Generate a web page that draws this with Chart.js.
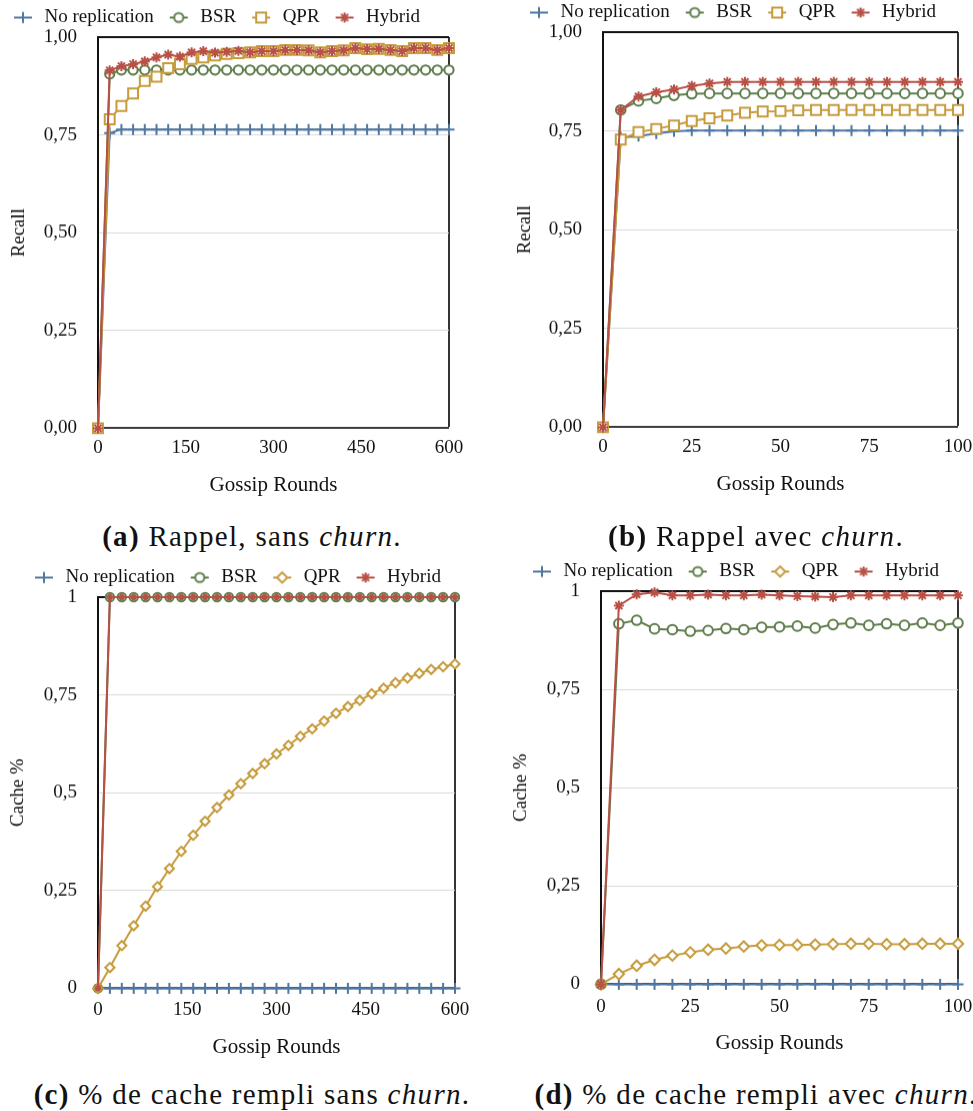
<!DOCTYPE html>
<html>
<head>
<meta charset="utf-8">
<script src="https://cdn.jsdelivr.net/npm/chart.js@4/dist/chart.umd.min.js"></script>
<style>
  html, body { margin: 0; padding: 0; background: #fff; }
  body { position: relative; width: 973px; height: 1111px; overflow: hidden; font-family: 'Liberation Serif', 'Times New Roman', serif; }
  canvas.panel { position: absolute; }
  .cap { position: absolute; transform: translate(-50%, -50%); white-space: nowrap; font-size: 29px; letter-spacing: 1.3px; color: #111; line-height: 1; }
  .cap b { font-weight: bold; }
</style>
</head>
<body>
<canvas id="chartA" class="panel"></canvas>
<canvas id="chartB" class="panel"></canvas>
<canvas id="chartC" class="panel"></canvas>
<canvas id="chartD" class="panel"></canvas>
<div class="cap" style="left:252px;top:536px"><b>(a)</b> Rappel, sans <i>churn</i>.</div>
<div class="cap" style="left:756px;top:536px"><b>(b)</b> Rappel avec <i>churn</i>.</div>
<div class="cap" style="left:252px;top:1094px"><b>(c)</b> % de cache rempli sans <i>churn</i>.</div>
<div class="cap" style="left:756px;top:1094px"><b>(d)</b> % de cache rempli avec <i>churn</i>.</div>
<script>
// ---- data ----
const seriesNames = ['No replication', 'BSR', 'QPR', 'Hybrid'];

const roundsLong = [0, 20, 40, 60, 80, 100, 120, 140, 160, 180, 200, 220, 240, 260, 280, 300,
  320, 340, 360, 380, 400, 420, 440, 460, 480, 500, 520, 540, 560, 580, 600];
const roundsShort = [0, 5, 10, 15, 20, 25, 30, 35, 40, 45, 50, 55, 60, 65, 70, 75, 80, 85, 90, 95, 100];

const recallTicks = ['0,00', '0,25', '0,50', '0,75', '1,00'];
const cacheTicks = ['0', '0,25', '0,5', '0,75', '1'];

// (a) recall, no churn
const recallNoRepA = [0, 0.755, 0.764, 0.764, 0.764, 0.764, 0.764, 0.764, 0.764, 0.764,
  0.764, 0.764, 0.764, 0.764, 0.764, 0.764, 0.764, 0.764, 0.764, 0.764,
  0.764, 0.764, 0.764, 0.764, 0.764, 0.764, 0.764, 0.764, 0.764, 0.764, 0.764];
const recallBsrA = [0, 0.906, 0.916, 0.916, 0.916, 0.916, 0.916, 0.916, 0.916, 0.916,
  0.916, 0.916, 0.916, 0.916, 0.916, 0.916, 0.916, 0.916, 0.916, 0.916,
  0.916, 0.916, 0.916, 0.916, 0.916, 0.916, 0.916, 0.916, 0.916, 0.916, 0.916];
const recallQprA = [0, 0.790, 0.824, 0.856, 0.888, 0.899, 0.921, 0.931, 0.944, 0.948,
  0.953, 0.957, 0.959, 0.961, 0.964, 0.964, 0.967, 0.967, 0.966, 0.961,
  0.964, 0.966, 0.972, 0.969, 0.970, 0.967, 0.964, 0.972, 0.972, 0.967, 0.972];
const recallHybridA = [0, 0.915, 0.926, 0.931, 0.938, 0.948, 0.955, 0.950, 0.961, 0.964,
  0.960, 0.962, 0.965, 0.961, 0.964, 0.964, 0.967, 0.967, 0.966, 0.961,
  0.964, 0.966, 0.972, 0.969, 0.970, 0.967, 0.964, 0.972, 0.972, 0.967, 0.972];

// (b) recall, with churn
const recallNoRepB = [0, 0.733, 0.737, 0.743, 0.749, 0.751, 0.751, 0.751, 0.751, 0.751,
  0.751, 0.751, 0.751, 0.751, 0.751, 0.751, 0.751, 0.751, 0.751, 0.751, 0.751];
const recallBsrB = [0, 0.803, 0.826, 0.832, 0.840, 0.844, 0.845, 0.845, 0.845, 0.845,
  0.845, 0.845, 0.845, 0.845, 0.845, 0.845, 0.845, 0.845, 0.845, 0.845, 0.845];
const recallQprB = [0, 0.728, 0.747, 0.755, 0.764, 0.775, 0.782, 0.789, 0.796, 0.799,
  0.800, 0.802, 0.803, 0.803, 0.803, 0.803, 0.803, 0.803, 0.803, 0.803, 0.803];
const recallHybridB = [0, 0.803, 0.837, 0.848, 0.855, 0.864, 0.870, 0.874, 0.874, 0.874,
  0.874, 0.874, 0.874, 0.874, 0.874, 0.874, 0.874, 0.874, 0.874, 0.874, 0.874];

// (c) cache filled, no churn
const cacheNoRepC = [0, 0, 0, 0, 0, 0, 0, 0, 0, 0, 0, 0, 0, 0, 0, 0,
  0, 0, 0, 0, 0, 0, 0, 0, 0, 0, 0, 0, 0, 0, 0];
const cacheBsrC = [0, 1, 1, 1, 1, 1, 1, 1, 1, 1, 1, 1, 1, 1, 1, 1,
  1, 1, 1, 1, 1, 1, 1, 1, 1, 1, 1, 1, 1, 1, 1];
const cacheQprC = [0, 0.053, 0.109, 0.160, 0.210, 0.260, 0.306, 0.350, 0.391, 0.427,
  0.462, 0.494, 0.523, 0.549, 0.574, 0.599, 0.621, 0.644, 0.663, 0.683,
  0.703, 0.720, 0.736, 0.753, 0.767, 0.781, 0.793, 0.805, 0.815, 0.822, 0.829];
const cacheHybridC = [0, 1, 1, 1, 1, 1, 1, 1, 1, 1, 1, 1, 1, 1, 1, 1,
  1, 1, 1, 1, 1, 1, 1, 1, 1, 1, 1, 1, 1, 1, 1];

// (d) cache filled, with churn
const cacheNoRepD = [0, 0, 0, 0, 0, 0, 0, 0, 0, 0, 0, 0, 0, 0, 0, 0, 0, 0, 0, 0, 0];
const cacheBsrD = [0, 0.917, 0.926, 0.904, 0.902, 0.898, 0.900, 0.905, 0.902, 0.908,
  0.909, 0.911, 0.906, 0.915, 0.919, 0.913, 0.917, 0.913, 0.919, 0.913, 0.919];
const cacheQprD = [0, 0.026, 0.047, 0.062, 0.073, 0.081, 0.088, 0.091, 0.096, 0.099,
  0.100, 0.100, 0.101, 0.102, 0.103, 0.103, 0.102, 0.102, 0.103, 0.103, 0.103];
const cacheHybridD = [0, 0.963, 0.992, 0.997, 0.989, 0.989, 0.991, 0.989, 0.989, 0.991,
  0.989, 0.987, 0.986, 0.985, 0.989, 0.989, 0.989, 0.989, 0.989, 0.989, 0.989];

// ---- styling ----
const FONT = "'Liberation Serif', 'Times New Roman', serif";
const TEXT = '#111';
const colors = ['#4f77a0', '#5f7d4b', '#c69b3c', '#b85046'];
const LEG_PAD = 11, LEG_FONT = 19, LEG_H = LEG_PAD * 2 + LEG_FONT;
const TICK_FONT = 19, YTITLE_FONT = 19, XTITLE_FONT = 21;
const PAD_R = 60;

// page-space placement of each panel's plot frame and text
const panels = [
  { id: 'chartA', rounds: roundsLong, xMax: 600, xStep: 150, yLabels: recallTicks, yTitle: 'Recall',
    series: [recallNoRepA, recallBsrA, recallQprA, recallHybridA],
    marks: { qpr: 'rect', qprR: 7, bsrR: 4.6, hybR: 5 },
    geo: { PL: 98, PR: 449, PT: 38, PB: 428, LB: 9, YT: 19, TR: 77, XT: 448, XTT: 485 } },
  { id: 'chartB', rounds: roundsShort, xMax: 100, xStep: 25, yLabels: recallTicks, yTitle: 'Recall',
    series: [recallNoRepB, recallBsrB, recallQprB, recallHybridB],
    marks: { qpr: 'rect', qprR: 7, bsrR: 4.8, hybR: 5 },
    geo: { PL: 603, PR: 958, PT: 33, PB: 427, LB: 525, YT: 525, TR: 582, XT: 447, XTT: 484 } },
  { id: 'chartC', rounds: roundsLong, xMax: 600, xStep: 150, yLabels: cacheTicks, yTitle: 'Cache %',
    series: [cacheNoRepC, cacheBsrC, cacheQprC, cacheHybridC],
    marks: { qpr: 'rectRot', qprR: 4.6, bsrR: 4.2, hybR: 3.2 },
    geo: { PL: 98, PR: 455, PT: 598, PB: 988, LB: 30, YT: 18, TR: 77, XT: 1010, XTT: 1047 } },
  { id: 'chartD', rounds: roundsShort, xMax: 100, xStep: 25, yLabels: cacheTicks, yTitle: 'Cache %',
    series: [cacheNoRepD, cacheBsrD, cacheQprD, cacheHybridD],
    marks: { qpr: 'rectRot', qprR: 5.2, bsrR: 4.8, hybR: 5 },
    geo: { PL: 601, PR: 958, PT: 592, PB: 984, LB: 528, YT: 521, TR: 580, XT: 1007, XTT: 1043 } }
];

// legend swatch: short line segment with the series marker on it
function legendIcon(style, color, radius) {
  const c = document.createElement('canvas');
  c.width = 26; c.height = 16;
  const g = c.getContext('2d');
  g.strokeStyle = color; g.lineWidth = 2;
  g.beginPath(); g.moveTo(5, 8); g.lineTo(23, 8); g.stroke();
  g.fillStyle = '#fff';
  Chart.helpers.drawPoint(g, { pointStyle: style, radius: radius, borderWidth: 2, rotation: 0 }, 14, 8);
  return c;
}

function buildPanel(p) {
  const g = p.geo;
  const CL = Math.min(g.LB - LEG_PAD, g.YT - 14);
  const CT = g.PT - LEG_H;
  const padLeft = g.LB - LEG_PAD - CL;
  const yWidth = g.PL - CL - padLeft;
  const yTitlePad = g.YT - CL - padLeft - YTITLE_FONT * 1.2 / 2;
  const xHeight = g.XTT + XTITLE_FONT * 1.2 / 2 + 1 - g.PB;
  const xTickPad = g.XT - g.PB - TICK_FONT * 1.2 / 2;
  const W = g.PR + PAD_R - CL;
  const H = g.PB + xHeight - CT;

  const canvas = document.getElementById(p.id);
  canvas.width = W; canvas.height = H;
  canvas.style.left = CL + 'px'; canvas.style.top = CT + 'px';
  canvas.style.width = W + 'px'; canvas.style.height = H + 'px';

  const m = p.marks;
  const styles = [
    { pointStyle: 'cross', pointRadius: 5.5 },
    { pointStyle: 'circle', pointRadius: m.bsrR },
    { pointStyle: m.qpr, pointRadius: m.qprR },
    { pointStyle: 'star', pointRadius: m.hybR }
  ];
  const iconRadii = [5.5, 4.6, m.qpr === 'rect' ? 7 : 5.2, 5];
  const icons = styles.map((s, i) => legendIcon(s.pointStyle, colors[i], iconRadii[i]));

  const datasets = p.series.map((vals, i) => ({
    label: seriesNames[i],
    data: vals.map((v, k) => ({ x: p.rounds[k], y: v })),
    borderColor: colors[i],
    borderWidth: 2,
    pointStyle: styles[i].pointStyle,
    pointRadius: styles[i].pointRadius,
    pointBorderWidth: 2,
    pointBorderColor: colors[i],
    pointBackgroundColor: '#fff',
    tension: 0,
    clip: false,
    order: 3 - i
  }));

  new Chart(canvas, {
    type: 'line',
    data: { datasets },
    options: {
      responsive: false,
      animation: false,
      events: [],
      layout: { padding: { left: padLeft, right: PAD_R, top: 0, bottom: 0 } },
      plugins: {
        tooltip: { enabled: false },
        legend: {
          position: 'top',
          align: 'start',
          labels: {
            usePointStyle: true,
            pointStyleWidth: 26,
            padding: LEG_PAD,
            color: TEXT,
            font: { family: FONT, size: LEG_FONT },
            generateLabels: (chart) => chart.data.datasets.map((ds, i) => ({
              text: ds.label, pointStyle: icons[i], fillStyle: 'transparent',
              strokeStyle: 'transparent', lineWidth: 0, hidden: false, datasetIndex: i, fontColor: TEXT
            }))
          }
        }
      },
      scales: {
        x: {
          type: 'linear', min: 0, max: p.xMax,
          afterFit: (s) => { s.height = xHeight; },
          ticks: { stepSize: p.xStep, padding: xTickPad, color: TEXT, maxRotation: 0,
            font: { family: FONT, size: TICK_FONT }, callback: (v) => String(v) },
          grid: { drawTicks: false,
            color: (c) => (c.tick && c.tick.value === p.xMax ? '#333' : 'transparent'),
            lineWidth: (c) => (c.tick && c.tick.value === p.xMax ? 2 : 0) },
          border: { display: true, color: '#3a3a3a', width: 2 },
          title: { display: true, text: 'Gossip Rounds', color: TEXT,
            font: { family: FONT, size: XTITLE_FONT }, padding: { top: 0, bottom: 1 } }
        },
        y: {
          min: 0, max: 1,
          afterFit: (s) => { s.width = yWidth; },
          ticks: { stepSize: 0.25, padding: g.PL - g.TR, color: TEXT,
            font: { family: FONT, size: TICK_FONT }, callback: (v, idx) => p.yLabels[idx] },
          grid: { drawTicks: false,
            color: (c) => (c.tick.value === 1 ? '#111' : (c.tick.value === 0 ? 'transparent' : '#d9d9d9')),
            lineWidth: (c) => (c.tick.value === 1 ? 2 : 1) },
          border: { display: true, color: '#111', width: 2 },
          title: { display: true, text: p.yTitle, color: TEXT,
            font: { family: FONT, size: YTITLE_FONT }, padding: { top: yTitlePad, bottom: 0 } }
        }
      }
    }
  });
}

panels.forEach(buildPanel);
</script>
</body>
</html>
